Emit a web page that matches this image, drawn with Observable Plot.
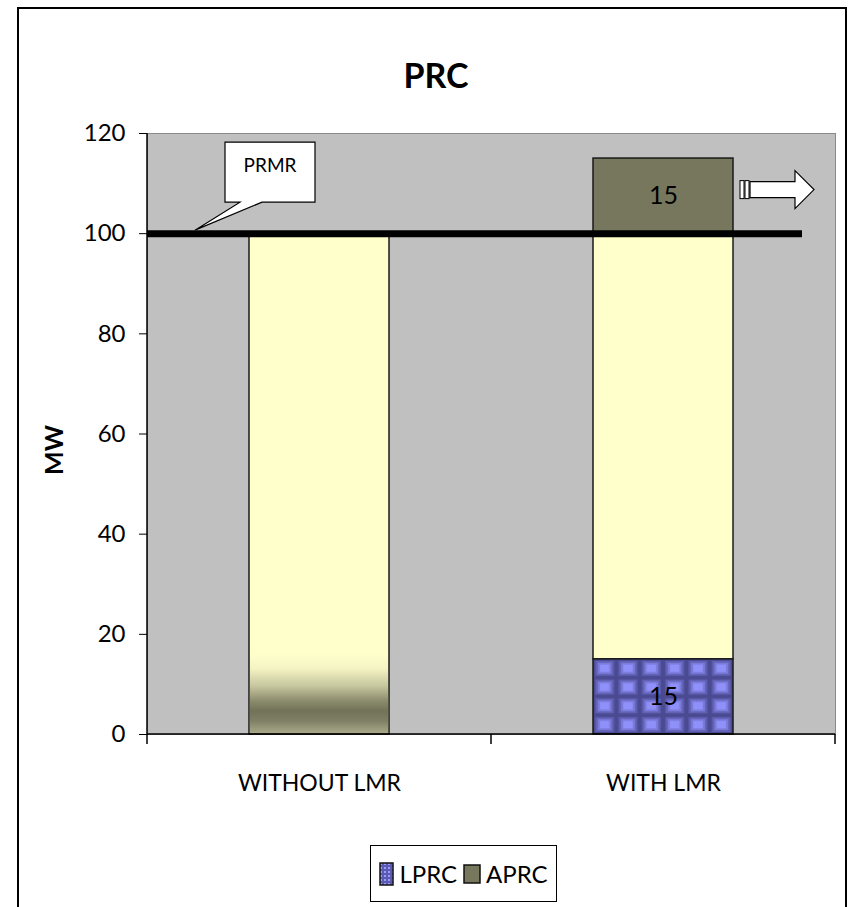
<!DOCTYPE html>
<html>
<head>
<meta charset="utf-8">
<script src="https://cdn.jsdelivr.net/npm/d3@7"></script>
<script src="https://cdn.jsdelivr.net/npm/@observablehq/plot@0.6"></script>
<style>
  html, body { margin: 0; padding: 0; background: #fff; }
  body { width: 850px; height: 907px; position: relative; overflow: hidden;
         font-family: Lato, "Open Sans", sans-serif; }
  #frame { position: absolute; left: 17px; top: 7px; width: 830px; height: 960px;
           border: 2px solid #000; box-sizing: border-box; }
  #title { position: absolute; left: 336px; width: 200px; top: 53px; text-align: center;
           font-weight: bold; font-size: 34px; line-height: 44px; color: #000; }
  #chart { position: absolute; left: 0; top: 110px; }
  #legend { position: absolute; left: 370px; top: 845px; width: 187px; height: 57px;
            border: 1.5px solid #000; box-sizing: border-box; background: #fff;
            display: flex; align-items: center; justify-content: center; gap: 6px;
            font-size: 24px; color: #000; }
  #legend .item { display: flex; align-items: center; gap: 5px; }
  #chart svg [aria-label="y-axis label"] text { font-weight: bold; font-size: 25px; }
</style>
</head>
<body>
<div id="frame"></div>
<div id="title">PRC</div>
<div id="chart"></div>
<div id="legend"></div>
<script>
// ---- data ----
const categories = ["WITHOUT LMR", "WITH LMR"];
const lprcValues = [0, 15];        // LPRC (patterned blue)
const baseValues = [100, 85];      // light yellow base
const aprcValues = [0, 15];        // APRC (olive)
const fadedValues = [16, 0];       // faded olive shading at bottom of WITHOUT LMR bar
const prmrValue = 100;             // PRMR line
const prmrLabel = "PRMR";
const yTicks = [0, 20, 40, 60, 80, 100, 120];
const legendLabels = ["LPRC", "APRC"];

// ---- build segment table ----
const segments = [];
categories.forEach((cat, i) => {
  let acc = 0;
  [["LPRC", lprcValues[i]], ["BASE", baseValues[i]], ["APRC", aprcValues[i]]].forEach(([s, v]) => {
    if (v > 0) segments.push({cat, series: s, y1: acc, y2: acc + v, value: v});
    acc += v;
  });
});
const faded = categories.map((cat, i) => ({cat, y1: 0, y2: fadedValues[i]})).filter(d => d.y2 > 0);
const labelled = segments.filter(d => d.series !== "BASE");

const YELLOW = "#FFFFCC", OLIVE = "#77775D", EDGE = "#1a1a1a";
const FONT = 'Lato, "Open Sans", sans-serif';

const chart = Plot.plot({
  width: 850, height: 720,
  marginTop: 23, marginLeft: 147, marginRight: 15, marginBottom: 96,
  style: {fontFamily: FONT, fontSize: "24px", color: "#000", background: "transparent", overflow: "visible"},
  x: {domain: categories, paddingInner: 0.593, paddingOuter: 0.2965, label: null},
  y: {domain: [0, 120], label: "MW"},
  marks: [
    Plot.frame({fill: "#C0C0C0", stroke: "#8a8a8a"}),
    Plot.barY(segments.filter(d => d.series === "BASE"), {x: "cat", y1: "y1", y2: "y2", fill: YELLOW, stroke: EDGE, strokeWidth: 1.5}),
    Plot.barY(faded, {x: "cat", y1: "y1", y2: "y2", fill: "url(#fade)", insetLeft: 1, insetRight: 1, insetBottom: 1}),
    Plot.barY(segments.filter(d => d.series === "LPRC"), {x: "cat", y1: "y1", y2: "y2", fill: "url(#lprcPat)", stroke: EDGE, strokeWidth: 1.5}),
    Plot.barY(segments.filter(d => d.series === "APRC"), {x: "cat", y1: "y1", y2: "y2", fill: OLIVE, stroke: EDGE, strokeWidth: 1.5}),
    Plot.text(labelled, {x: "cat", y: d => (d.y1 + d.y2) / 2, text: d => String(d.value), fontSize: 25, fill: "#000"}),
    Plot.ruleY([prmrValue], {stroke: "#000", strokeWidth: 7, insetRight: 33}),
    Plot.axisY({ticks: yTicks, tickSize: 8, tickPadding: 14, label: "MW", labelAnchor: "center", labelOffset: 102, labelArrow: "none", stroke: "#000"}),
    Plot.axisX({tickSize: 0, tickPadding: 40, fontSize: 23, label: null})
  ]
});
document.getElementById("chart").appendChild(chart);

// ---- extras drawn from the plot's own scales ----
const svg = d3.select(chart);
svg.select('[aria-label="y-axis label"] text').attr("dx", -16);
const sx = chart.scale("x"), sy = chart.scale("y");
const leftX = 147, rightX = 850 - 15;
const bw = sx.bandwidth;
const defs = svg.insert("defs", ":first-child");

// fade gradient for the WITHOUT LMR bar bottom
const grad = defs.append("linearGradient").attr("id", "fade").attr("x1", 0).attr("y1", 0).attr("x2", 0).attr("y2", 1);
[[0, YELLOW], [0.18, "#F4F4C4"], [0.4, "#C8C8A0"], [0.6, "#8A8A6C"], [0.72, "#727258"], [0.85, "#808066"], [1, "#A8A888"]]
  .forEach(([o, c]) => grad.append("stop").attr("offset", o).attr("stop-color", c));

// LPRC tiled pattern anchored to the bar
const wl = categories[1];
const px0 = sx.apply(wl), py0 = sy.apply(lprcValues[1]);
function addPattern(id, x0, y0, w, h) {
  const p = defs.append("pattern").attr("id", id).attr("patternUnits", "userSpaceOnUse")
    .attr("x", x0).attr("y", y0).attr("width", w).attr("height", h);
  p.append("rect").attr("width", w).attr("height", h).attr("fill", "#4A4A92");
  p.append("rect").attr("x", w * 0.1).attr("y", h * 0.1).attr("width", w * 0.8).attr("height", h * 0.8).attr("fill", "#6060B4");
  p.append("rect").attr("x", w * 0.2).attr("y", h * 0.2).attr("width", w * 0.6).attr("height", h * 0.6).attr("fill", "#7A7ADA");
  p.append("rect").attr("x", w * 0.3).attr("y", h * 0.3).attr("width", w * 0.4).attr("height", h * 0.4).attr("fill", "#9090FA");
}
addPattern("lprcPat", px0, py0, bw / 6, (sy.apply(0) - py0) / 4);

const layer = svg.append("g");
// axis lines
layer.append("line").attr("x1", leftX).attr("x2", leftX).attr("y1", sy.apply(120)).attr("y2", sy.apply(0)).attr("stroke", "#000").attr("stroke-width", 1.5);
layer.append("line").attr("x1", leftX).attr("x2", rightX).attr("y1", sy.apply(0)).attr("y2", sy.apply(0)).attr("stroke", "#000").attr("stroke-width", 1.5);
// category boundary ticks
const bounds = [leftX];
for (let i = 1; i < categories.length; i++) bounds.push((sx.apply(categories[i - 1]) + bw + sx.apply(categories[i])) / 2);
bounds.push(rightX);
bounds.forEach(b => layer.append("line").attr("x1", b).attr("x2", b).attr("y1", sy.apply(0)).attr("y2", sy.apply(0) + 10).attr("stroke", "#000").attr("stroke-width", 1.5));

// PRMR callout
const tipX = leftX + 48, tipY = sy.apply(prmrValue) - 3;
const bl = tipX + 30, br = tipX + 120, bt = tipY - 88, bb = tipY - 28;
layer.append("path")
  .attr("d", `M${bl},${bt}H${br}V${bb}H${tipX + 67}L${tipX},${tipY}L${tipX + 45},${bb}H${bl}Z`)
  .attr("fill", "#fff").attr("stroke", "#000").attr("stroke-width", 1.2);
layer.append("text").attr("x", (bl + br) / 2).attr("y", bt + 30).attr("text-anchor", "middle")
  .attr("font-family", FONT).attr("font-size", 19).text(prmrLabel);

// block arrow beside the APRC segment
const ax = sx.apply(wl) + bw + 7, ay = sy.apply(aprcValues[1] / 2 + baseValues[1] + lprcValues[1]) - 6;
layer.append("rect").attr("x", ax).attr("y", ay - 9).attr("width", 4).attr("height", 18).attr("fill", "#fff").attr("stroke", "#000").attr("stroke-width", 1);
layer.append("rect").attr("x", ax + 5).attr("y", ay - 9).attr("width", 4).attr("height", 18).attr("fill", "#fff").attr("stroke", "#000").attr("stroke-width", 1);
layer.append("path")
  .attr("d", `M${ax + 10},${ay - 8}H${ax + 55}V${ay - 19}L${ax + 74},${ay}L${ax + 55},${ay + 19}V${ay + 8}H${ax + 10}Z`)
  .attr("fill", "#fff").attr("stroke", "#000").attr("stroke-width", 1.2);

// ---- legend ----
const legend = d3.select("#legend");
const it1 = legend.append("div").attr("class", "item");
const s1 = it1.append("svg").attr("width", 15).attr("height", 24);
const d1 = s1.append("defs").append("pattern").attr("id", "legPat").attr("patternUnits", "userSpaceOnUse").attr("width", 4).attr("height", 4);
d1.append("rect").attr("width", 4).attr("height", 4).attr("fill", "#5a5ab0");
d1.append("rect").attr("x", 1).attr("y", 1).attr("width", 2).attr("height", 2).attr("fill", "#9a9aff");
s1.append("rect").attr("x", 1).attr("y", 1).attr("width", 13).attr("height", 22).attr("fill", "url(#legPat)").attr("stroke", "#111").attr("stroke-width", 1.5);
it1.append("span").text(legendLabels[0]);
const it2 = legend.append("div").attr("class", "item");
const s2 = it2.append("svg").attr("width", 18).attr("height", 20);
s2.append("rect").attr("x", 1).attr("y", 1).attr("width", 16).attr("height", 18).attr("fill", OLIVE).attr("stroke", "#111").attr("stroke-width", 1.5);
it2.append("span").text(legendLabels[1]);
</script>
</body>
</html>
